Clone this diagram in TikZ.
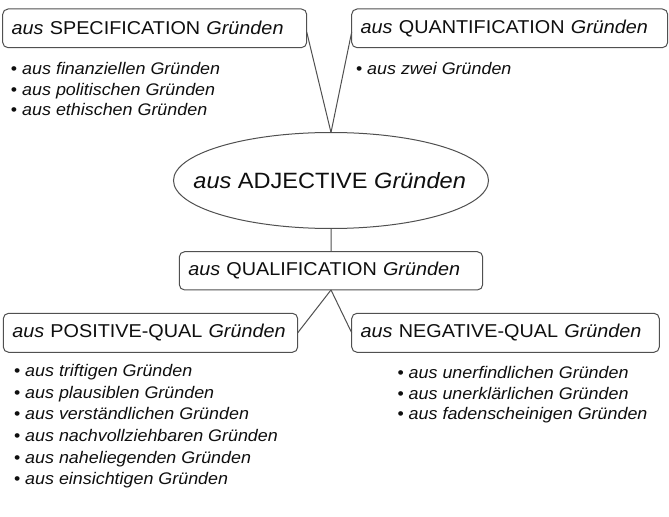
\documentclass[tikz,border=0pt]{standalone}
\usepackage{fontspec}
\setmainfont{Liberation Sans}[FakeStretch=1.065]
\usetikzlibrary{shapes.geometric}
\definecolor{ln}{RGB}{80,80,80}
\definecolor{tx}{RGB}{15,15,15}
\begin{document}
\begin{tikzpicture}[x=0.75pt,y=-0.75pt,
  box/.style={draw=ln, line width=0.75pt, rounded corners=4pt, anchor=north west,
    inner xsep=6.75pt, inner ysep=0pt, outer sep=0pt, align=left, text=tx,
    font=\fontsize{13.95}{16}\selectfont},
  oval/.style={draw=ln, line width=0.75pt, ellipse, inner sep=0pt, outer sep=0pt,
    minimum width=236.25pt, minimum height=72pt, text=tx,
    font=\fontsize{16.6}{19}\selectfont},
  bul/.style={anchor=base west, inner sep=0pt, outer sep=0pt, text=tx,
    font=\fontsize{12.6}{15}\selectfont},
  conn/.style={draw=ln, line width=0.75pt}
]
\useasboundingbox[fill=white] (0,0) rectangle (669,517);

% boxes
\node[box, minimum width=228pt, text width=214.5pt, minimum height=29pt] (spec) at (2.7,9)
  {\textit{aus} SPECIFICATION \textit{Gründen}};
\node[box, minimum width=237pt, text width=223.5pt, minimum height=29pt] (quant) at (351.7,9)
  {\textit{aus} QUANTIFICATION \textit{Gründen}};
\node[oval] (adj) at (331,180.5) {\makebox[0pt][c]{\hspace*{-2pt}\textit{aus} ADJECTIVE \textit{Gründen}}};
\node[box, minimum width=227.55pt, text width=214.05pt, minimum height=28.7pt] (qual) at (179.3,251.7)
  {\textit{aus} QUALIFICATION \textit{Gründen}};
\node[box, minimum width=220.8pt, text width=207.3pt, minimum height=29.25pt] (pos) at (3.3,313.3)
  {\textit{aus} POSITIVE-QUAL \textit{Gründen}};
\node[box, minimum width=230.7pt, text width=217.2pt, minimum height=29.25pt] (neg) at (351.7,313.3)
  {\textit{aus} NEGATIVE-QUAL \textit{Gründen}};

% bullet lists
\node[bul] (s1) at (11,75)    {• \textit{aus finanziellen Gründen}};
\node[bul] (s2) at (11,95.5)  {• \textit{aus politischen Gründen}};
\node[bul] (s3) at (11,116)   {• \textit{aus ethischen Gründen}};

\node[bul] (q1) at (356,75)   {• \textit{aus zwei Gründen}};

\node[bul] (p1) at (14,377)   {• \textit{aus triftigen Gründen}};
\node[bul] (p2) at (14,398.5) {• \textit{aus plausiblen Gründen}};
\node[bul] (p3) at (14,420)   {• \textit{aus verständlichen Gründen}};
\node[bul] (p4) at (14,441.5) {• \textit{aus nachvollziehbaren Gründen}};
\node[bul] (p5) at (14,463)   {• \textit{aus naheliegenden Gründen}};
\node[bul] (p6) at (14,484.5) {• \textit{aus einsichtigen Gründen}};

\node[bul] (n1) at (397.5,378.5) {• \textit{aus unerfindlichen Gründen}};
\node[bul] (n2) at (397.5,399.3) {• \textit{aus unerklärlichen Gründen}};
\node[bul] (n3) at (397.5,420)   {• \textit{aus fadenscheinigen Gründen}};

% connectors
\draw[conn] ([yshift=-2.7pt]spec.east) -- (adj.north);
\draw[conn] ([yshift=-2.7pt]quant.west) -- (adj.north);
\draw[conn] (adj.south) -- (qual.north);
\draw[conn] (qual.south) -- (pos.east);
\draw[conn] (qual.south) -- (neg.west);
\end{tikzpicture}
\end{document}
